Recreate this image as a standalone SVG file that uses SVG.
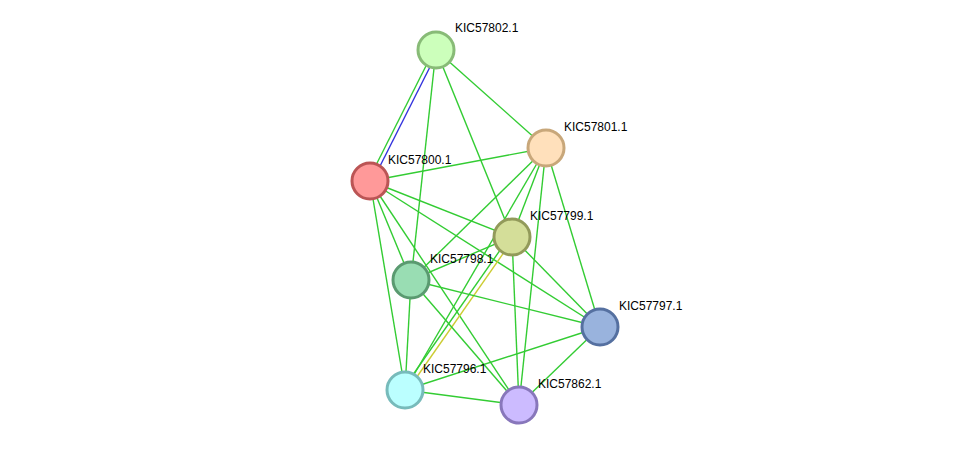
<svg xmlns="http://www.w3.org/2000/svg" width="975" height="451" viewBox="0 0 975 451">
<style>
.e{stroke:#33cc33;stroke-width:1.4;fill:none}
.n{stroke-width:3}
text{font-family:"Liberation Sans",Arial,sans-serif;font-size:12px;fill:#000}
</style>
<rect width="975" height="451" fill="#fff"/>
<g id="edges">
<line class="e" x1="434" y1="50" x2="368" y2="181"/>
<line x1="438" y1="51" x2="372" y2="182" stroke="#3333dd" stroke-width="1.4"/>
<line class="e" x1="436" y1="50" x2="546" y2="148"/>
<line class="e" x1="436" y1="50" x2="512" y2="237"/>
<line class="e" x1="436" y1="50" x2="411" y2="280"/>
<line class="e" x1="370" y1="181" x2="546" y2="148"/>
<line class="e" x1="370" y1="181" x2="512" y2="237"/>
<line class="e" x1="370" y1="181" x2="411" y2="280"/>
<line class="e" x1="370" y1="181" x2="405" y2="390"/>
<line class="e" x1="370" y1="181" x2="519" y2="405"/>
<line class="e" x1="370" y1="181" x2="600" y2="327"/>
<line class="e" x1="546" y1="148" x2="512" y2="237"/>
<line class="e" x1="546" y1="148" x2="411" y2="280"/>
<line class="e" x1="546" y1="148" x2="405" y2="390"/>
<line class="e" x1="546" y1="148" x2="519" y2="405"/>
<line class="e" x1="546" y1="148" x2="600" y2="327"/>
<line class="e" x1="510" y1="236" x2="403" y2="389"/>
<line x1="514" y1="238" x2="407" y2="391" stroke="#cccc33" stroke-width="1.4"/>
<line class="e" x1="512" y1="237" x2="519" y2="405"/>
<line class="e" x1="512" y1="237" x2="600" y2="327"/>
<line class="e" x1="512" y1="237" x2="411" y2="280"/>
<line class="e" x1="411" y1="280" x2="600" y2="327"/>
<line class="e" x1="411" y1="280" x2="405" y2="390"/>
<line class="e" x1="411" y1="280" x2="519" y2="405"/>
<line class="e" x1="600" y1="327" x2="405" y2="390"/>
<line class="e" x1="600" y1="327" x2="519" y2="405"/>
<line class="e" x1="405" y1="390" x2="519" y2="405"/>
</g>
<g id="KIC57802.1"><circle class="n" cx="436" cy="50" r="18" fill="#ccffbb" stroke="#88bb77"/><text x="455" y="32">KIC57802.1</text></g>
<g id="KIC57801.1"><circle class="n" cx="546" cy="148" r="18" fill="#ffe0bb" stroke="#c8a77a"/><text x="564" y="131">KIC57801.1</text></g>
<g id="KIC57800.1"><circle class="n" cx="370" cy="181" r="18" fill="#ff9999" stroke="#bb5555"/><text x="388" y="164">KIC57800.1</text></g>
<g id="KIC57799.1"><circle class="n" cx="512" cy="237" r="18" fill="#d4de99" stroke="#929a5a"/><text x="530" y="220">KIC57799.1</text></g>
<g id="KIC57798.1"><circle class="n" cx="411" cy="280" r="18" fill="#99ddb3" stroke="#5a9a70"/><text x="430" y="263">KIC57798.1</text></g>
<g id="KIC57797.1"><circle class="n" cx="600" cy="327" r="18" fill="#99b3dd" stroke="#5570a0"/><text x="619" y="310">KIC57797.1</text></g>
<g id="KIC57796.1"><circle class="n" cx="405" cy="390" r="18" fill="#bbffff" stroke="#77bbbb"/><text x="423" y="373">KIC57796.1</text></g>
<g id="KIC57862.1"><circle class="n" cx="519" cy="405" r="18" fill="#ccbbff" stroke="#8877bb"/><text x="538" y="388">KIC57862.1</text></g>
</svg>
